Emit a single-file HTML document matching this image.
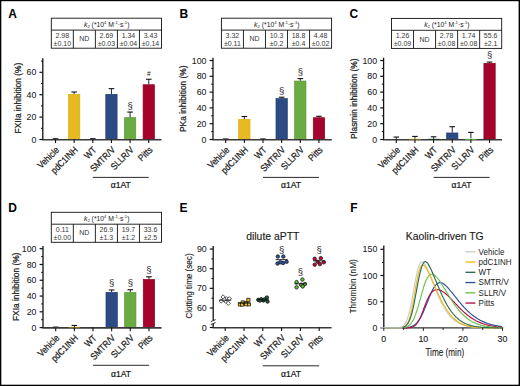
<!DOCTYPE html>
<html><head><meta charset="utf-8"><style>
html,body{margin:0;padding:0;background:#fff;width:520px;height:386px;overflow:hidden;font-family:"Liberation Sans",sans-serif;}
svg{display:block}
</style></head><body>
<svg width="520" height="386" viewBox="0 0 520 386" font-family='"Liberation Sans", sans-serif'><rect x="0" y="0" width="520" height="386" fill="#000"/>
<rect x="1.3" y="1.2" width="517.3" height="383.5" fill="#fff"/>
<text x="8.2" y="17.7" font-size="12" text-anchor="start" font-weight="bold" fill="#000" >A</text>
<rect x="51.3" y="18.2" width="110.2" height="30" fill="none" stroke="#111" stroke-width="0.9"/>
<line x1="51.3" y1="30.1" x2="161.5" y2="30.1" stroke="#111" stroke-width="0.9" />
<line x1="73.34" y1="30.1" x2="73.34" y2="48.2" stroke="#111" stroke-width="0.9" />
<line x1="95.38" y1="30.1" x2="95.38" y2="48.2" stroke="#111" stroke-width="0.9" />
<line x1="117.42" y1="30.1" x2="117.42" y2="48.2" stroke="#111" stroke-width="0.9" />
<line x1="139.46" y1="30.1" x2="139.46" y2="48.2" stroke="#111" stroke-width="0.9" />
<text x="106.7" y="26.5" font-size="6.8" text-anchor="middle" fill="#222"><tspan font-style="italic">k</tspan><tspan font-size="4.2" dy="1.3">2</tspan><tspan dy="-1.3"> (*10</tspan><tspan font-size="4.2" dy="-2.4">4</tspan><tspan dy="2.4"> M</tspan><tspan font-size="4.2" dy="-2.4">-1</tspan><tspan dy="2.4">·s</tspan><tspan font-size="4.2" dy="-2.4">-1</tspan><tspan dy="2.4">)</tspan></text>
<text x="62.32" y="37.6" font-size="7" text-anchor="middle" font-weight="normal" fill="#383838" >2.98</text>
<text x="62.32" y="45.7" font-size="7" text-anchor="middle" font-weight="normal" fill="#383838" >±0.10</text>
<text x="84.36" y="41.3" font-size="7" text-anchor="middle" font-weight="normal" fill="#383838" >ND</text>
<text x="106.4" y="37.6" font-size="7" text-anchor="middle" font-weight="normal" fill="#383838" >2.69</text>
<text x="106.4" y="45.7" font-size="7" text-anchor="middle" font-weight="normal" fill="#383838" >±0.03</text>
<text x="128.44" y="37.6" font-size="7" text-anchor="middle" font-weight="normal" fill="#383838" >1.34</text>
<text x="128.44" y="45.7" font-size="7" text-anchor="middle" font-weight="normal" fill="#383838" >±0.04</text>
<text x="150.48" y="37.6" font-size="7" text-anchor="middle" font-weight="normal" fill="#383838" >3.43</text>
<text x="150.48" y="45.7" font-size="7" text-anchor="middle" font-weight="normal" fill="#383838" >±0.14</text>
<line x1="55.5" y1="139.5" x2="55.5" y2="138.72" stroke="#111" stroke-width="0.9" />
<line x1="52.7" y1="138.72" x2="58.3" y2="138.72" stroke="#111" stroke-width="1.1" />
<rect x="68.5" y="94.38" width="11.3" height="45.12" fill="#e7b923" stroke="#dcae08" stroke-width="0.7"/>
<line x1="74.15" y1="94.03" x2="74.15" y2="92.01" stroke="#111" stroke-width="0.9" />
<line x1="71.35" y1="92.01" x2="76.95" y2="92.01" stroke="#111" stroke-width="1.1" />
<line x1="92.8" y1="139.5" x2="92.8" y2="138.72" stroke="#111" stroke-width="0.9" />
<line x1="90" y1="138.72" x2="95.6" y2="138.72" stroke="#111" stroke-width="1.1" />
<rect x="105.8" y="94.38" width="11.3" height="45.12" fill="#2c4b85" stroke="#213c70" stroke-width="0.7"/>
<line x1="111.45" y1="94.03" x2="111.45" y2="88.65" stroke="#111" stroke-width="0.9" />
<line x1="108.65" y1="88.65" x2="114.25" y2="88.65" stroke="#111" stroke-width="1.1" />
<rect x="124.45" y="117.67" width="11.3" height="21.83" fill="#6aab44" stroke="#5a9a35" stroke-width="0.7"/>
<line x1="130.1" y1="117.32" x2="130.1" y2="112.06" stroke="#111" stroke-width="0.9" />
<line x1="127.3" y1="112.06" x2="132.9" y2="112.06" stroke="#111" stroke-width="1.1" />
<rect x="143.1" y="84.75" width="11.3" height="54.75" fill="#a5032c" stroke="#900024" stroke-width="0.7"/>
<line x1="148.75" y1="84.4" x2="148.75" y2="79.24" stroke="#111" stroke-width="0.9" />
<line x1="145.95" y1="79.24" x2="151.55" y2="79.24" stroke="#111" stroke-width="1.1" />
<line x1="42.8" y1="58.2" x2="42.8" y2="140" stroke="#111" stroke-width="1.3" />
<line x1="42.3" y1="139.8" x2="161.5" y2="139.8" stroke="#3a3a3a" stroke-width="1.6" />
<line x1="39.4" y1="139.5" x2="42.8" y2="139.5" stroke="#111" stroke-width="1.2" />
<text x="36.3" y="142.6" font-size="8.8" text-anchor="end" font-weight="normal" fill="#1a1a1a" stroke="#1a1a1a" stroke-width="0.06" >0</text>
<line x1="39.4" y1="117.1" x2="42.8" y2="117.1" stroke="#111" stroke-width="1.2" />
<text x="36.3" y="120.2" font-size="8.8" text-anchor="end" font-weight="normal" fill="#1a1a1a" stroke="#1a1a1a" stroke-width="0.06" >20</text>
<line x1="39.4" y1="94.7" x2="42.8" y2="94.7" stroke="#111" stroke-width="1.2" />
<text x="36.3" y="97.8" font-size="8.8" text-anchor="end" font-weight="normal" fill="#1a1a1a" stroke="#1a1a1a" stroke-width="0.06" >40</text>
<line x1="39.4" y1="72.3" x2="42.8" y2="72.3" stroke="#111" stroke-width="1.2" />
<text x="36.3" y="75.4" font-size="8.8" text-anchor="end" font-weight="normal" fill="#1a1a1a" stroke="#1a1a1a" stroke-width="0.06" >60</text>
<line x1="41" y1="128.3" x2="42.8" y2="128.3" stroke="#111" stroke-width="1.0" />
<line x1="41" y1="105.9" x2="42.8" y2="105.9" stroke="#111" stroke-width="1.0" />
<line x1="41" y1="83.5" x2="42.8" y2="83.5" stroke="#111" stroke-width="1.0" />
<line x1="41" y1="61.1" x2="42.8" y2="61.1" stroke="#111" stroke-width="1.0" />
<line x1="55.5" y1="139.5" x2="55.5" y2="143.1" stroke="#111" stroke-width="1.1" />
<line x1="74.15" y1="139.5" x2="74.15" y2="143.1" stroke="#111" stroke-width="1.1" />
<line x1="92.8" y1="139.5" x2="92.8" y2="143.1" stroke="#111" stroke-width="1.1" />
<line x1="111.45" y1="139.5" x2="111.45" y2="143.1" stroke="#111" stroke-width="1.1" />
<line x1="130.1" y1="139.5" x2="130.1" y2="143.1" stroke="#111" stroke-width="1.1" />
<line x1="148.75" y1="139.5" x2="148.75" y2="143.1" stroke="#111" stroke-width="1.1" />
<text x="130.1" y="109" font-size="9.5" text-anchor="middle" font-weight="normal" fill="#222" >§</text>
<text x="148.75" y="75.6" font-size="6.6" text-anchor="middle" font-weight="normal" fill="#222" >#</text>
<text transform="translate(20.6 98.1) rotate(-90)" font-size="8.4" text-anchor="middle" font-weight="normal" fill="#1a1a1a" stroke="#1a1a1a" stroke-width="0.22" >FXIIa inhibition (%)</text>
<text transform="translate(59.8 150.5) rotate(-45) scale(0.87 1)" font-size="9.4" text-anchor="end" font-weight="normal" fill="#1a1a1a" stroke="#1a1a1a" stroke-width="0.22" >Vehicle</text>
<text transform="translate(78.45 150.5) rotate(-45) scale(0.87 1)" font-size="9.4" text-anchor="end" font-weight="normal" fill="#1a1a1a" stroke="#1a1a1a" stroke-width="0.22" >pdC1INH</text>
<text transform="translate(97.1 150.5) rotate(-45) scale(0.87 1)" font-size="9.4" text-anchor="end" font-weight="normal" fill="#1a1a1a" stroke="#1a1a1a" stroke-width="0.22" >WT</text>
<text transform="translate(115.75 150.5) rotate(-45) scale(0.87 1)" font-size="9.4" text-anchor="end" font-weight="normal" fill="#1a1a1a" stroke="#1a1a1a" stroke-width="0.22" >SMTR/V</text>
<text transform="translate(134.4 150.5) rotate(-45) scale(0.87 1)" font-size="9.4" text-anchor="end" font-weight="normal" fill="#1a1a1a" stroke="#1a1a1a" stroke-width="0.22" >SLLR/V</text>
<text transform="translate(153.05 150.5) rotate(-45) scale(0.87 1)" font-size="9.4" text-anchor="end" font-weight="normal" fill="#1a1a1a" stroke="#1a1a1a" stroke-width="0.22" >Pitts</text>
<line x1="92.8" y1="177.4" x2="148.75" y2="177.4" stroke="#111" stroke-width="0.9" />
<text x="120.78" y="188.4" font-size="8.6" text-anchor="middle" font-weight="normal" fill="#1a1a1a" stroke="#1a1a1a" stroke-width="0.22" >α1AT</text>
<text x="179.6" y="17.8" font-size="12" text-anchor="start" font-weight="bold" fill="#000" >B</text>
<rect x="221.4" y="18.2" width="110.2" height="30" fill="none" stroke="#111" stroke-width="0.9"/>
<line x1="221.4" y1="30.1" x2="331.6" y2="30.1" stroke="#111" stroke-width="0.9" />
<line x1="243.44" y1="30.1" x2="243.44" y2="48.2" stroke="#111" stroke-width="0.9" />
<line x1="265.48" y1="30.1" x2="265.48" y2="48.2" stroke="#111" stroke-width="0.9" />
<line x1="287.52" y1="30.1" x2="287.52" y2="48.2" stroke="#111" stroke-width="0.9" />
<line x1="309.56" y1="30.1" x2="309.56" y2="48.2" stroke="#111" stroke-width="0.9" />
<text x="276.8" y="26.5" font-size="6.8" text-anchor="middle" fill="#222"><tspan font-style="italic">k</tspan><tspan font-size="4.2" dy="1.3">2</tspan><tspan dy="-1.3"> (*10</tspan><tspan font-size="4.2" dy="-2.4">4</tspan><tspan dy="2.4"> M</tspan><tspan font-size="4.2" dy="-2.4">-1</tspan><tspan dy="2.4">·s</tspan><tspan font-size="4.2" dy="-2.4">-1</tspan><tspan dy="2.4">)</tspan></text>
<text x="232.42" y="37.6" font-size="7" text-anchor="middle" font-weight="normal" fill="#383838" >3.32</text>
<text x="232.42" y="45.7" font-size="7" text-anchor="middle" font-weight="normal" fill="#383838" >±0.11</text>
<text x="254.46" y="41.3" font-size="7" text-anchor="middle" font-weight="normal" fill="#383838" >ND</text>
<text x="276.5" y="37.6" font-size="7" text-anchor="middle" font-weight="normal" fill="#383838" >10.3</text>
<text x="276.5" y="45.7" font-size="7" text-anchor="middle" font-weight="normal" fill="#383838" >±0.2</text>
<text x="298.54" y="37.6" font-size="7" text-anchor="middle" font-weight="normal" fill="#383838" >18.8</text>
<text x="298.54" y="45.7" font-size="7" text-anchor="middle" font-weight="normal" fill="#383838" >±0.4</text>
<text x="320.58" y="37.6" font-size="7" text-anchor="middle" font-weight="normal" fill="#383838" >4.48</text>
<text x="320.58" y="45.7" font-size="7" text-anchor="middle" font-weight="normal" fill="#383838" >±0.02</text>
<line x1="225.7" y1="139.5" x2="225.7" y2="138.95" stroke="#111" stroke-width="0.9" />
<line x1="222.9" y1="138.95" x2="228.5" y2="138.95" stroke="#111" stroke-width="1.1" />
<rect x="238.7" y="119.39" width="11.3" height="20.11" fill="#e7b923" stroke="#dcae08" stroke-width="0.7"/>
<line x1="244.35" y1="119.04" x2="244.35" y2="116.51" stroke="#111" stroke-width="0.9" />
<line x1="241.55" y1="116.51" x2="247.15" y2="116.51" stroke="#111" stroke-width="1.1" />
<line x1="263" y1="139.5" x2="263" y2="138.95" stroke="#111" stroke-width="0.9" />
<line x1="260.2" y1="138.95" x2="265.8" y2="138.95" stroke="#111" stroke-width="1.1" />
<rect x="276" y="98.61" width="11.3" height="40.89" fill="#2c4b85" stroke="#213c70" stroke-width="0.7"/>
<line x1="281.65" y1="98.26" x2="281.65" y2="97.23" stroke="#111" stroke-width="0.9" />
<line x1="278.85" y1="97.23" x2="284.45" y2="97.23" stroke="#111" stroke-width="1.1" />
<rect x="294.65" y="81.07" width="11.3" height="58.43" fill="#6aab44" stroke="#5a9a35" stroke-width="0.7"/>
<line x1="300.3" y1="80.72" x2="300.3" y2="78.59" stroke="#111" stroke-width="0.9" />
<line x1="297.5" y1="78.59" x2="303.1" y2="78.59" stroke="#111" stroke-width="1.1" />
<rect x="313.3" y="117.73" width="11.3" height="21.77" fill="#a5032c" stroke="#900024" stroke-width="0.7"/>
<line x1="318.95" y1="117.38" x2="318.95" y2="116.27" stroke="#111" stroke-width="0.9" />
<line x1="316.15" y1="116.27" x2="321.75" y2="116.27" stroke="#111" stroke-width="1.1" />
<line x1="213" y1="57.7" x2="213" y2="140" stroke="#111" stroke-width="1.3" />
<line x1="212.5" y1="139.8" x2="331.8" y2="139.8" stroke="#3a3a3a" stroke-width="1.6" />
<line x1="209.6" y1="139.5" x2="213" y2="139.5" stroke="#111" stroke-width="1.2" />
<text x="206.5" y="142.6" font-size="8.8" text-anchor="end" font-weight="normal" fill="#1a1a1a" stroke="#1a1a1a" stroke-width="0.06" >0</text>
<line x1="209.6" y1="123.7" x2="213" y2="123.7" stroke="#111" stroke-width="1.2" />
<text x="206.5" y="126.8" font-size="8.8" text-anchor="end" font-weight="normal" fill="#1a1a1a" stroke="#1a1a1a" stroke-width="0.06" >20</text>
<line x1="209.6" y1="107.9" x2="213" y2="107.9" stroke="#111" stroke-width="1.2" />
<text x="206.5" y="111" font-size="8.8" text-anchor="end" font-weight="normal" fill="#1a1a1a" stroke="#1a1a1a" stroke-width="0.06" >40</text>
<line x1="209.6" y1="92.1" x2="213" y2="92.1" stroke="#111" stroke-width="1.2" />
<text x="206.5" y="95.2" font-size="8.8" text-anchor="end" font-weight="normal" fill="#1a1a1a" stroke="#1a1a1a" stroke-width="0.06" >60</text>
<line x1="209.6" y1="76.3" x2="213" y2="76.3" stroke="#111" stroke-width="1.2" />
<text x="206.5" y="79.4" font-size="8.8" text-anchor="end" font-weight="normal" fill="#1a1a1a" stroke="#1a1a1a" stroke-width="0.06" >80</text>
<line x1="209.6" y1="60.5" x2="213" y2="60.5" stroke="#111" stroke-width="1.2" />
<text x="206.5" y="63.6" font-size="8.8" text-anchor="end" font-weight="normal" fill="#1a1a1a" stroke="#1a1a1a" stroke-width="0.06" >100</text>
<line x1="211.2" y1="131.6" x2="213" y2="131.6" stroke="#111" stroke-width="1.0" />
<line x1="211.2" y1="115.8" x2="213" y2="115.8" stroke="#111" stroke-width="1.0" />
<line x1="211.2" y1="100" x2="213" y2="100" stroke="#111" stroke-width="1.0" />
<line x1="211.2" y1="84.2" x2="213" y2="84.2" stroke="#111" stroke-width="1.0" />
<line x1="211.2" y1="68.4" x2="213" y2="68.4" stroke="#111" stroke-width="1.0" />
<line x1="225.7" y1="139.5" x2="225.7" y2="143.1" stroke="#111" stroke-width="1.1" />
<line x1="244.35" y1="139.5" x2="244.35" y2="143.1" stroke="#111" stroke-width="1.1" />
<line x1="263" y1="139.5" x2="263" y2="143.1" stroke="#111" stroke-width="1.1" />
<line x1="281.65" y1="139.5" x2="281.65" y2="143.1" stroke="#111" stroke-width="1.1" />
<line x1="300.3" y1="139.5" x2="300.3" y2="143.1" stroke="#111" stroke-width="1.1" />
<line x1="318.95" y1="139.5" x2="318.95" y2="143.1" stroke="#111" stroke-width="1.1" />
<text x="281.65" y="93.5" font-size="9.5" text-anchor="middle" font-weight="normal" fill="#222" >§</text>
<text x="300.3" y="74.9" font-size="9.5" text-anchor="middle" font-weight="normal" fill="#222" >§</text>
<text transform="translate(186 98.7) rotate(-90)" font-size="8.4" text-anchor="middle" font-weight="normal" fill="#1a1a1a" stroke="#1a1a1a" stroke-width="0.22" >PKa inhibition (%)</text>
<text transform="translate(230 150.5) rotate(-45) scale(0.87 1)" font-size="9.4" text-anchor="end" font-weight="normal" fill="#1a1a1a" stroke="#1a1a1a" stroke-width="0.22" >Vehicle</text>
<text transform="translate(248.65 150.5) rotate(-45) scale(0.87 1)" font-size="9.4" text-anchor="end" font-weight="normal" fill="#1a1a1a" stroke="#1a1a1a" stroke-width="0.22" >pdC1INH</text>
<text transform="translate(267.3 150.5) rotate(-45) scale(0.87 1)" font-size="9.4" text-anchor="end" font-weight="normal" fill="#1a1a1a" stroke="#1a1a1a" stroke-width="0.22" >WT</text>
<text transform="translate(285.95 150.5) rotate(-45) scale(0.87 1)" font-size="9.4" text-anchor="end" font-weight="normal" fill="#1a1a1a" stroke="#1a1a1a" stroke-width="0.22" >SMTR/V</text>
<text transform="translate(304.6 150.5) rotate(-45) scale(0.87 1)" font-size="9.4" text-anchor="end" font-weight="normal" fill="#1a1a1a" stroke="#1a1a1a" stroke-width="0.22" >SLLR/V</text>
<text transform="translate(323.25 150.5) rotate(-45) scale(0.87 1)" font-size="9.4" text-anchor="end" font-weight="normal" fill="#1a1a1a" stroke="#1a1a1a" stroke-width="0.22" >Pitts</text>
<line x1="263" y1="177.4" x2="318.95" y2="177.4" stroke="#111" stroke-width="0.9" />
<text x="290.98" y="188.4" font-size="8.6" text-anchor="middle" font-weight="normal" fill="#1a1a1a" stroke="#1a1a1a" stroke-width="0.22" >α1AT</text>
<text x="349.4" y="18" font-size="12" text-anchor="start" font-weight="bold" fill="#000" >C</text>
<rect x="391.5" y="18.4" width="110.2" height="30" fill="none" stroke="#111" stroke-width="0.9"/>
<line x1="391.5" y1="30.3" x2="501.7" y2="30.3" stroke="#111" stroke-width="0.9" />
<line x1="413.54" y1="30.3" x2="413.54" y2="48.4" stroke="#111" stroke-width="0.9" />
<line x1="435.58" y1="30.3" x2="435.58" y2="48.4" stroke="#111" stroke-width="0.9" />
<line x1="457.62" y1="30.3" x2="457.62" y2="48.4" stroke="#111" stroke-width="0.9" />
<line x1="479.66" y1="30.3" x2="479.66" y2="48.4" stroke="#111" stroke-width="0.9" />
<text x="446.9" y="26.7" font-size="6.8" text-anchor="middle" fill="#222"><tspan font-style="italic">k</tspan><tspan font-size="4.2" dy="1.3">2</tspan><tspan dy="-1.3"> (*10</tspan><tspan font-size="4.2" dy="-2.4">4</tspan><tspan dy="2.4"> M</tspan><tspan font-size="4.2" dy="-2.4">-1</tspan><tspan dy="2.4">·s</tspan><tspan font-size="4.2" dy="-2.4">-1</tspan><tspan dy="2.4">)</tspan></text>
<text x="402.52" y="37.8" font-size="7" text-anchor="middle" font-weight="normal" fill="#383838" >1.26</text>
<text x="402.52" y="45.9" font-size="7" text-anchor="middle" font-weight="normal" fill="#383838" >±0.09</text>
<text x="424.56" y="41.5" font-size="7" text-anchor="middle" font-weight="normal" fill="#383838" >ND</text>
<text x="446.6" y="37.8" font-size="7" text-anchor="middle" font-weight="normal" fill="#383838" >2.78</text>
<text x="446.6" y="45.9" font-size="7" text-anchor="middle" font-weight="normal" fill="#383838" >±0.08</text>
<text x="468.64" y="37.8" font-size="7" text-anchor="middle" font-weight="normal" fill="#383838" >1.74</text>
<text x="468.64" y="45.9" font-size="7" text-anchor="middle" font-weight="normal" fill="#383838" >±0.08</text>
<text x="490.68" y="37.8" font-size="7" text-anchor="middle" font-weight="normal" fill="#383838" >55.6</text>
<text x="490.68" y="45.9" font-size="7" text-anchor="middle" font-weight="normal" fill="#383838" >±2.1</text>
<line x1="396.3" y1="139.5" x2="396.3" y2="137.05" stroke="#111" stroke-width="0.9" />
<line x1="393.5" y1="137.05" x2="399.1" y2="137.05" stroke="#111" stroke-width="1.1" />
<line x1="414.95" y1="138.71" x2="414.95" y2="136.42" stroke="#111" stroke-width="0.9" />
<line x1="412.15" y1="136.42" x2="417.75" y2="136.42" stroke="#111" stroke-width="1.1" />
<line x1="433.6" y1="138.87" x2="433.6" y2="136.81" stroke="#111" stroke-width="0.9" />
<line x1="430.8" y1="136.81" x2="436.4" y2="136.81" stroke="#111" stroke-width="1.1" />
<rect x="446.6" y="132.98" width="11.3" height="6.52" fill="#2c4b85" stroke="#213c70" stroke-width="0.7"/>
<line x1="452.25" y1="132.63" x2="452.25" y2="126.7" stroke="#111" stroke-width="0.9" />
<line x1="449.45" y1="126.7" x2="455.05" y2="126.7" stroke="#111" stroke-width="1.1" />
<line x1="470.9" y1="138.24" x2="470.9" y2="132.39" stroke="#111" stroke-width="0.9" />
<line x1="468.1" y1="132.39" x2="473.7" y2="132.39" stroke="#111" stroke-width="1.1" />
<rect x="483.9" y="63.38" width="11.3" height="76.12" fill="#a5032c" stroke="#900024" stroke-width="0.7"/>
<line x1="489.55" y1="63.03" x2="489.55" y2="62.08" stroke="#111" stroke-width="0.9" />
<line x1="486.75" y1="62.08" x2="492.35" y2="62.08" stroke="#111" stroke-width="1.1" />
<line x1="383.6" y1="57.7" x2="383.6" y2="140" stroke="#111" stroke-width="1.3" />
<line x1="383.1" y1="139.8" x2="502" y2="139.8" stroke="#3a3a3a" stroke-width="1.6" />
<line x1="409.15" y1="139.4" x2="420.75" y2="139.4" stroke="#8a7420" stroke-width="1.1" />
<line x1="427.8" y1="139.4" x2="439.4" y2="139.4" stroke="#0f3a25" stroke-width="1.1" />
<line x1="465.1" y1="139.4" x2="476.7" y2="139.4" stroke="#5aa83a" stroke-width="1.1" />
<line x1="380.2" y1="139.5" x2="383.6" y2="139.5" stroke="#111" stroke-width="1.2" />
<text x="377.1" y="142.6" font-size="8.8" text-anchor="end" font-weight="normal" fill="#1a1a1a" stroke="#1a1a1a" stroke-width="0.06" >0</text>
<line x1="380.2" y1="123.7" x2="383.6" y2="123.7" stroke="#111" stroke-width="1.2" />
<text x="377.1" y="126.8" font-size="8.8" text-anchor="end" font-weight="normal" fill="#1a1a1a" stroke="#1a1a1a" stroke-width="0.06" >20</text>
<line x1="380.2" y1="107.9" x2="383.6" y2="107.9" stroke="#111" stroke-width="1.2" />
<text x="377.1" y="111" font-size="8.8" text-anchor="end" font-weight="normal" fill="#1a1a1a" stroke="#1a1a1a" stroke-width="0.06" >40</text>
<line x1="380.2" y1="92.1" x2="383.6" y2="92.1" stroke="#111" stroke-width="1.2" />
<text x="377.1" y="95.2" font-size="8.8" text-anchor="end" font-weight="normal" fill="#1a1a1a" stroke="#1a1a1a" stroke-width="0.06" >60</text>
<line x1="380.2" y1="76.3" x2="383.6" y2="76.3" stroke="#111" stroke-width="1.2" />
<text x="377.1" y="79.4" font-size="8.8" text-anchor="end" font-weight="normal" fill="#1a1a1a" stroke="#1a1a1a" stroke-width="0.06" >80</text>
<line x1="380.2" y1="60.5" x2="383.6" y2="60.5" stroke="#111" stroke-width="1.2" />
<text x="377.1" y="63.6" font-size="8.8" text-anchor="end" font-weight="normal" fill="#1a1a1a" stroke="#1a1a1a" stroke-width="0.06" >100</text>
<line x1="381.8" y1="131.6" x2="383.6" y2="131.6" stroke="#111" stroke-width="1.0" />
<line x1="381.8" y1="115.8" x2="383.6" y2="115.8" stroke="#111" stroke-width="1.0" />
<line x1="381.8" y1="100" x2="383.6" y2="100" stroke="#111" stroke-width="1.0" />
<line x1="381.8" y1="84.2" x2="383.6" y2="84.2" stroke="#111" stroke-width="1.0" />
<line x1="381.8" y1="68.4" x2="383.6" y2="68.4" stroke="#111" stroke-width="1.0" />
<line x1="396.3" y1="139.5" x2="396.3" y2="143.1" stroke="#111" stroke-width="1.1" />
<line x1="414.95" y1="139.5" x2="414.95" y2="143.1" stroke="#111" stroke-width="1.1" />
<line x1="433.6" y1="139.5" x2="433.6" y2="143.1" stroke="#111" stroke-width="1.1" />
<line x1="452.25" y1="139.5" x2="452.25" y2="143.1" stroke="#111" stroke-width="1.1" />
<line x1="470.9" y1="139.5" x2="470.9" y2="143.1" stroke="#111" stroke-width="1.1" />
<line x1="489.55" y1="139.5" x2="489.55" y2="143.1" stroke="#111" stroke-width="1.1" />
<text x="489.55" y="57.7" font-size="9.5" text-anchor="middle" font-weight="normal" fill="#222" >§</text>
<text transform="translate(356.8 98.7) rotate(-90)" font-size="8.4" text-anchor="middle" font-weight="normal" fill="#1a1a1a" stroke="#1a1a1a" stroke-width="0.22" >Plasmin inhibition (%)</text>
<text transform="translate(400.6 150.5) rotate(-45) scale(0.87 1)" font-size="9.4" text-anchor="end" font-weight="normal" fill="#1a1a1a" stroke="#1a1a1a" stroke-width="0.22" >Vehicle</text>
<text transform="translate(419.25 150.5) rotate(-45) scale(0.87 1)" font-size="9.4" text-anchor="end" font-weight="normal" fill="#1a1a1a" stroke="#1a1a1a" stroke-width="0.22" >pdC1INH</text>
<text transform="translate(437.9 150.5) rotate(-45) scale(0.87 1)" font-size="9.4" text-anchor="end" font-weight="normal" fill="#1a1a1a" stroke="#1a1a1a" stroke-width="0.22" >WT</text>
<text transform="translate(456.55 150.5) rotate(-45) scale(0.87 1)" font-size="9.4" text-anchor="end" font-weight="normal" fill="#1a1a1a" stroke="#1a1a1a" stroke-width="0.22" >SMTR/V</text>
<text transform="translate(475.2 150.5) rotate(-45) scale(0.87 1)" font-size="9.4" text-anchor="end" font-weight="normal" fill="#1a1a1a" stroke="#1a1a1a" stroke-width="0.22" >SLLR/V</text>
<text transform="translate(493.85 150.5) rotate(-45) scale(0.87 1)" font-size="9.4" text-anchor="end" font-weight="normal" fill="#1a1a1a" stroke="#1a1a1a" stroke-width="0.22" >Pitts</text>
<line x1="433.6" y1="177.4" x2="489.55" y2="177.4" stroke="#111" stroke-width="0.9" />
<text x="461.58" y="188.4" font-size="8.6" text-anchor="middle" font-weight="normal" fill="#1a1a1a" stroke="#1a1a1a" stroke-width="0.22" >α1AT</text>
<text x="8.2" y="211.7" font-size="12" text-anchor="start" font-weight="bold" fill="#000" >D</text>
<rect x="51.3" y="212.3" width="110.2" height="30" fill="none" stroke="#111" stroke-width="0.9"/>
<line x1="51.3" y1="224.2" x2="161.5" y2="224.2" stroke="#111" stroke-width="0.9" />
<line x1="73.34" y1="224.2" x2="73.34" y2="242.3" stroke="#111" stroke-width="0.9" />
<line x1="95.38" y1="224.2" x2="95.38" y2="242.3" stroke="#111" stroke-width="0.9" />
<line x1="117.42" y1="224.2" x2="117.42" y2="242.3" stroke="#111" stroke-width="0.9" />
<line x1="139.46" y1="224.2" x2="139.46" y2="242.3" stroke="#111" stroke-width="0.9" />
<text x="106.7" y="220.6" font-size="6.8" text-anchor="middle" fill="#222"><tspan font-style="italic">k</tspan><tspan font-size="4.2" dy="1.3">2</tspan><tspan dy="-1.3"> (*10</tspan><tspan font-size="4.2" dy="-2.4">4</tspan><tspan dy="2.4"> M</tspan><tspan font-size="4.2" dy="-2.4">-1</tspan><tspan dy="2.4">·s</tspan><tspan font-size="4.2" dy="-2.4">-1</tspan><tspan dy="2.4">)</tspan></text>
<text x="62.32" y="231.7" font-size="7" text-anchor="middle" font-weight="normal" fill="#383838" >0.11</text>
<text x="62.32" y="239.8" font-size="7" text-anchor="middle" font-weight="normal" fill="#383838" >±0.00</text>
<text x="84.36" y="235.4" font-size="7" text-anchor="middle" font-weight="normal" fill="#383838" >ND</text>
<text x="106.4" y="231.7" font-size="7" text-anchor="middle" font-weight="normal" fill="#383838" >26.9</text>
<text x="106.4" y="239.8" font-size="7" text-anchor="middle" font-weight="normal" fill="#383838" >±1.3</text>
<text x="128.44" y="231.7" font-size="7" text-anchor="middle" font-weight="normal" fill="#383838" >19.7</text>
<text x="128.44" y="239.8" font-size="7" text-anchor="middle" font-weight="normal" fill="#383838" >±1.2</text>
<text x="150.48" y="231.7" font-size="7" text-anchor="middle" font-weight="normal" fill="#383838" >33.6</text>
<text x="150.48" y="239.8" font-size="7" text-anchor="middle" font-weight="normal" fill="#383838" >±2.5</text>
<line x1="55.7" y1="327.6" x2="55.7" y2="327.13" stroke="#111" stroke-width="0.9" />
<line x1="52.9" y1="327.13" x2="58.5" y2="327.13" stroke="#111" stroke-width="1.1" />
<line x1="74.35" y1="327.13" x2="74.35" y2="325.47" stroke="#111" stroke-width="0.9" />
<line x1="71.55" y1="325.47" x2="77.15" y2="325.47" stroke="#111" stroke-width="1.1" />
<rect x="106" y="292.37" width="11.3" height="35.23" fill="#2c4b85" stroke="#213c70" stroke-width="0.7"/>
<line x1="111.65" y1="292.02" x2="111.65" y2="289.96" stroke="#111" stroke-width="0.9" />
<line x1="108.85" y1="289.96" x2="114.45" y2="289.96" stroke="#111" stroke-width="1.1" />
<rect x="124.65" y="292.52" width="11.3" height="35.08" fill="#6aab44" stroke="#5a9a35" stroke-width="0.7"/>
<line x1="130.3" y1="292.17" x2="130.3" y2="289.73" stroke="#111" stroke-width="0.9" />
<line x1="127.5" y1="289.73" x2="133.1" y2="289.73" stroke="#111" stroke-width="1.1" />
<rect x="143.3" y="279.43" width="11.3" height="48.17" fill="#a5032c" stroke="#900024" stroke-width="0.7"/>
<line x1="148.95" y1="279.08" x2="148.95" y2="276.79" stroke="#111" stroke-width="0.9" />
<line x1="146.15" y1="276.79" x2="151.75" y2="276.79" stroke="#111" stroke-width="1.1" />
<line x1="43" y1="246" x2="43" y2="328.1" stroke="#111" stroke-width="1.3" />
<line x1="42.5" y1="327.9" x2="161.5" y2="327.9" stroke="#3a3a3a" stroke-width="1.6" />
<line x1="68.55" y1="327.5" x2="80.15" y2="327.5" stroke="#8a7420" stroke-width="1.1" />
<line x1="39.6" y1="327.6" x2="43" y2="327.6" stroke="#111" stroke-width="1.2" />
<text x="36.5" y="330.7" font-size="8.8" text-anchor="end" font-weight="normal" fill="#1a1a1a" stroke="#1a1a1a" stroke-width="0.06" >0</text>
<line x1="39.6" y1="311.82" x2="43" y2="311.82" stroke="#111" stroke-width="1.2" />
<text x="36.5" y="314.92" font-size="8.8" text-anchor="end" font-weight="normal" fill="#1a1a1a" stroke="#1a1a1a" stroke-width="0.06" >20</text>
<line x1="39.6" y1="296.04" x2="43" y2="296.04" stroke="#111" stroke-width="1.2" />
<text x="36.5" y="299.14" font-size="8.8" text-anchor="end" font-weight="normal" fill="#1a1a1a" stroke="#1a1a1a" stroke-width="0.06" >40</text>
<line x1="39.6" y1="280.26" x2="43" y2="280.26" stroke="#111" stroke-width="1.2" />
<text x="36.5" y="283.36" font-size="8.8" text-anchor="end" font-weight="normal" fill="#1a1a1a" stroke="#1a1a1a" stroke-width="0.06" >60</text>
<line x1="39.6" y1="264.48" x2="43" y2="264.48" stroke="#111" stroke-width="1.2" />
<text x="36.5" y="267.58" font-size="8.8" text-anchor="end" font-weight="normal" fill="#1a1a1a" stroke="#1a1a1a" stroke-width="0.06" >80</text>
<line x1="39.6" y1="248.7" x2="43" y2="248.7" stroke="#111" stroke-width="1.2" />
<text x="36.5" y="251.8" font-size="8.8" text-anchor="end" font-weight="normal" fill="#1a1a1a" stroke="#1a1a1a" stroke-width="0.06" >100</text>
<line x1="41.2" y1="319.71" x2="43" y2="319.71" stroke="#111" stroke-width="1.0" />
<line x1="41.2" y1="303.93" x2="43" y2="303.93" stroke="#111" stroke-width="1.0" />
<line x1="41.2" y1="288.15" x2="43" y2="288.15" stroke="#111" stroke-width="1.0" />
<line x1="41.2" y1="272.37" x2="43" y2="272.37" stroke="#111" stroke-width="1.0" />
<line x1="41.2" y1="256.59" x2="43" y2="256.59" stroke="#111" stroke-width="1.0" />
<line x1="55.7" y1="327.6" x2="55.7" y2="331.2" stroke="#111" stroke-width="1.1" />
<line x1="74.35" y1="327.6" x2="74.35" y2="331.2" stroke="#111" stroke-width="1.1" />
<line x1="93" y1="327.6" x2="93" y2="331.2" stroke="#111" stroke-width="1.1" />
<line x1="111.65" y1="327.6" x2="111.65" y2="331.2" stroke="#111" stroke-width="1.1" />
<line x1="130.3" y1="327.6" x2="130.3" y2="331.2" stroke="#111" stroke-width="1.1" />
<line x1="148.95" y1="327.6" x2="148.95" y2="331.2" stroke="#111" stroke-width="1.1" />
<text x="111.65" y="286" font-size="9.5" text-anchor="middle" font-weight="normal" fill="#222" >§</text>
<text x="130.3" y="286" font-size="9.5" text-anchor="middle" font-weight="normal" fill="#222" >§</text>
<text x="148.95" y="272.8" font-size="9.5" text-anchor="middle" font-weight="normal" fill="#222" >§</text>
<text transform="translate(18.5 286.8) rotate(-90)" font-size="8.4" text-anchor="middle" font-weight="normal" fill="#1a1a1a" stroke="#1a1a1a" stroke-width="0.22" >FXIa inhibition (%)</text>
<text transform="translate(60 338.6) rotate(-45) scale(0.87 1)" font-size="9.4" text-anchor="end" font-weight="normal" fill="#1a1a1a" stroke="#1a1a1a" stroke-width="0.22" >Vehicle</text>
<text transform="translate(78.65 338.6) rotate(-45) scale(0.87 1)" font-size="9.4" text-anchor="end" font-weight="normal" fill="#1a1a1a" stroke="#1a1a1a" stroke-width="0.22" >pdC1INH</text>
<text transform="translate(97.3 338.6) rotate(-45) scale(0.87 1)" font-size="9.4" text-anchor="end" font-weight="normal" fill="#1a1a1a" stroke="#1a1a1a" stroke-width="0.22" >WT</text>
<text transform="translate(115.95 338.6) rotate(-45) scale(0.87 1)" font-size="9.4" text-anchor="end" font-weight="normal" fill="#1a1a1a" stroke="#1a1a1a" stroke-width="0.22" >SMTR/V</text>
<text transform="translate(134.6 338.6) rotate(-45) scale(0.87 1)" font-size="9.4" text-anchor="end" font-weight="normal" fill="#1a1a1a" stroke="#1a1a1a" stroke-width="0.22" >SLLR/V</text>
<text transform="translate(153.25 338.6) rotate(-45) scale(0.87 1)" font-size="9.4" text-anchor="end" font-weight="normal" fill="#1a1a1a" stroke="#1a1a1a" stroke-width="0.22" >Pitts</text>
<line x1="93" y1="365.3" x2="148.95" y2="365.3" stroke="#111" stroke-width="0.9" />
<text x="120.97" y="376.5" font-size="8.6" text-anchor="middle" font-weight="normal" fill="#1a1a1a" stroke="#1a1a1a" stroke-width="0.22" >α1AT</text>
<text x="179.4" y="211.8" font-size="12" text-anchor="start" font-weight="bold" fill="#000" >E</text>
<text x="272.8" y="239.8" font-size="10.4" text-anchor="middle" font-weight="normal" fill="#1a1a1a" stroke="#1a1a1a" stroke-width="0.132" >dilute aPTT</text>
<line x1="213.2" y1="246.1" x2="213.2" y2="328" stroke="#111" stroke-width="1.3" />
<line x1="212.7" y1="327.8" x2="331.6" y2="327.8" stroke="#3a3a3a" stroke-width="1.6" />
<line x1="209.8" y1="308" x2="213.2" y2="308" stroke="#111" stroke-width="1.2" />
<text x="206.7" y="311.1" font-size="8.8" text-anchor="end" font-weight="normal" fill="#1a1a1a" stroke="#1a1a1a" stroke-width="0.06" >60</text>
<line x1="209.8" y1="288.35" x2="213.2" y2="288.35" stroke="#111" stroke-width="1.2" />
<text x="206.7" y="291.45" font-size="8.8" text-anchor="end" font-weight="normal" fill="#1a1a1a" stroke="#1a1a1a" stroke-width="0.06" >70</text>
<line x1="209.8" y1="268.7" x2="213.2" y2="268.7" stroke="#111" stroke-width="1.2" />
<text x="206.7" y="271.8" font-size="8.8" text-anchor="end" font-weight="normal" fill="#1a1a1a" stroke="#1a1a1a" stroke-width="0.06" >80</text>
<line x1="209.8" y1="249.05" x2="213.2" y2="249.05" stroke="#111" stroke-width="1.2" />
<text x="206.7" y="252.15" font-size="8.8" text-anchor="end" font-weight="normal" fill="#1a1a1a" stroke="#1a1a1a" stroke-width="0.06" >90</text>
<line x1="211.4" y1="298.18" x2="213.2" y2="298.18" stroke="#111" stroke-width="1.0" />
<line x1="211.4" y1="278.52" x2="213.2" y2="278.52" stroke="#111" stroke-width="1.0" />
<line x1="211.4" y1="258.88" x2="213.2" y2="258.88" stroke="#111" stroke-width="1.0" />
<line x1="209.8" y1="327.5" x2="213.2" y2="327.5" stroke="#111" stroke-width="1.2" />
<text x="206.7" y="330.6" font-size="8.8" text-anchor="end" font-weight="normal" fill="#1a1a1a" stroke="#1a1a1a" stroke-width="0.132" >0</text>
<rect x="211.2" y="320.2" width="4" height="3.8" fill="#fff" stroke="none" stroke-width="0"/>
<line x1="210.8" y1="321.6" x2="215.6" y2="319.6" stroke="#111" stroke-width="0.9" />
<line x1="210.8" y1="324.6" x2="215.6" y2="322.6" stroke="#111" stroke-width="0.9" />
<line x1="225.2" y1="327.5" x2="225.2" y2="331.1" stroke="#111" stroke-width="1.1" />
<line x1="244" y1="327.5" x2="244" y2="331.1" stroke="#111" stroke-width="1.1" />
<line x1="262.8" y1="327.5" x2="262.8" y2="331.1" stroke="#111" stroke-width="1.1" />
<line x1="281.6" y1="327.5" x2="281.6" y2="331.1" stroke="#111" stroke-width="1.1" />
<line x1="300.4" y1="327.5" x2="300.4" y2="331.1" stroke="#111" stroke-width="1.1" />
<line x1="319.2" y1="327.5" x2="319.2" y2="331.1" stroke="#111" stroke-width="1.1" />
<text transform="translate(192.1 286) rotate(-90) scale(0.9 1)" font-size="9.0" text-anchor="middle" font-weight="normal" fill="#1a1a1a" stroke="#1a1a1a" stroke-width="0.132" >Clotting time (sec)</text>
<text transform="translate(229.5 338.5) rotate(-45) scale(0.87 1)" font-size="9.4" text-anchor="end" font-weight="normal" fill="#1a1a1a" stroke="#1a1a1a" stroke-width="0.22" >Vehicle</text>
<text transform="translate(248.3 338.5) rotate(-45) scale(0.87 1)" font-size="9.4" text-anchor="end" font-weight="normal" fill="#1a1a1a" stroke="#1a1a1a" stroke-width="0.22" >pdC1INH</text>
<text transform="translate(267.1 338.5) rotate(-45) scale(0.87 1)" font-size="9.4" text-anchor="end" font-weight="normal" fill="#1a1a1a" stroke="#1a1a1a" stroke-width="0.22" >WT</text>
<text transform="translate(285.9 338.5) rotate(-45) scale(0.87 1)" font-size="9.4" text-anchor="end" font-weight="normal" fill="#1a1a1a" stroke="#1a1a1a" stroke-width="0.22" >SMTR/V</text>
<text transform="translate(304.7 338.5) rotate(-45) scale(0.87 1)" font-size="9.4" text-anchor="end" font-weight="normal" fill="#1a1a1a" stroke="#1a1a1a" stroke-width="0.22" >SLLR/V</text>
<text transform="translate(323.5 338.5) rotate(-45) scale(0.87 1)" font-size="9.4" text-anchor="end" font-weight="normal" fill="#1a1a1a" stroke="#1a1a1a" stroke-width="0.22" >Pitts</text>
<line x1="262.8" y1="365.8" x2="319.2" y2="365.8" stroke="#111" stroke-width="0.9" />
<text x="291" y="376.8" font-size="8.6" text-anchor="middle" font-weight="normal" fill="#1a1a1a" stroke="#1a1a1a" stroke-width="0.22" >α1AT</text>
<path d="M223.1 294.84 L225.2 296.94 L223.1 299.04 L221 296.94Z" fill="#fff" stroke="#111" stroke-width="0.7"/>
<path d="M221.3 298.94 L223.4 301.04 L221.3 303.14 L219.2 301.04Z" fill="#fff" stroke="#111" stroke-width="0.7"/>
<path d="M226.5 296.64 L228.6 298.74 L226.5 300.84 L224.4 298.74Z" fill="#fff" stroke="#111" stroke-width="0.7"/>
<path d="M229.4 296.64 L231.5 298.74 L229.4 300.84 L227.3 298.74Z" fill="#fff" stroke="#111" stroke-width="0.7"/>
<path d="M228.3 301.24 L230.4 303.34 L228.3 305.44 L226.2 303.34Z" fill="#fff" stroke="#111" stroke-width="0.7"/>
<path d="M225.4 298.94 L227.5 301.04 L225.4 303.14 L223.3 301.04Z" fill="#fff" stroke="#111" stroke-width="0.7"/>
<path d="M224.2 297.44 L226.3 299.54 L224.2 301.64 L222.1 299.54Z" fill="#fff" stroke="#111" stroke-width="0.7"/>
<line x1="219.2" y1="300.14" x2="231.2" y2="300.14" stroke="#111" stroke-width="0.9" />
<rect x="238.2" y="302.79" width="3.2" height="3.2" fill="#e7b923" stroke="#111" stroke-width="0.7"/>
<rect x="241.1" y="300.89" width="3.2" height="3.2" fill="#e7b923" stroke="#111" stroke-width="0.7"/>
<rect x="244" y="301.29" width="3.2" height="3.2" fill="#e7b923" stroke="#111" stroke-width="0.7"/>
<rect x="246.8" y="298.19" width="3.2" height="3.2" fill="#e7b923" stroke="#111" stroke-width="0.7"/>
<rect x="247.4" y="302.79" width="3.2" height="3.2" fill="#e7b923" stroke="#111" stroke-width="0.7"/>
<rect x="244.4" y="302.69" width="3.2" height="3.2" fill="#e7b923" stroke="#111" stroke-width="0.7"/>
<rect x="240.4" y="302.99" width="3.2" height="3.2" fill="#e7b923" stroke="#111" stroke-width="0.7"/>
<line x1="238" y1="303.09" x2="250" y2="303.09" stroke="#111" stroke-width="0.9" />
<circle cx="258.3" cy="299.85" r="1.75" fill="#1f5a3e" stroke="#111" stroke-width="0.75"/>
<circle cx="261.1" cy="299.25" r="1.75" fill="#1f5a3e" stroke="#111" stroke-width="0.75"/>
<circle cx="263.4" cy="300.45" r="1.75" fill="#1f5a3e" stroke="#111" stroke-width="0.75"/>
<circle cx="266.9" cy="297.55" r="1.75" fill="#1f5a3e" stroke="#111" stroke-width="0.75"/>
<circle cx="267.5" cy="301.55" r="1.75" fill="#1f5a3e" stroke="#111" stroke-width="0.75"/>
<circle cx="260" cy="300.55" r="1.75" fill="#1f5a3e" stroke="#111" stroke-width="0.75"/>
<circle cx="264.6" cy="299.35" r="1.75" fill="#1f5a3e" stroke="#111" stroke-width="0.75"/>
<line x1="256.8" y1="299.75" x2="268.8" y2="299.75" stroke="#111" stroke-width="0.9" />
<circle cx="277.8" cy="256.56" r="1.75" fill="#2d55a0" stroke="#111" stroke-width="0.75"/>
<circle cx="283.3" cy="256.56" r="1.75" fill="#2d55a0" stroke="#111" stroke-width="0.75"/>
<circle cx="277.5" cy="263.56" r="1.75" fill="#2d55a0" stroke="#111" stroke-width="0.75"/>
<circle cx="283" cy="262.96" r="1.75" fill="#2d55a0" stroke="#111" stroke-width="0.75"/>
<circle cx="286.6" cy="261.76" r="1.75" fill="#2d55a0" stroke="#111" stroke-width="0.75"/>
<circle cx="280.3" cy="262.26" r="1.75" fill="#2d55a0" stroke="#111" stroke-width="0.75"/>
<line x1="275.6" y1="259.66" x2="287.6" y2="259.66" stroke="#111" stroke-width="0.9" />
<circle cx="296.6" cy="282.13" r="1.75" fill="#62c03c" stroke="#111" stroke-width="0.75"/>
<circle cx="302.4" cy="279.53" r="1.75" fill="#62c03c" stroke="#111" stroke-width="0.75"/>
<circle cx="305" cy="284.03" r="1.75" fill="#62c03c" stroke="#111" stroke-width="0.75"/>
<circle cx="296.6" cy="287.33" r="1.75" fill="#62c03c" stroke="#111" stroke-width="0.75"/>
<circle cx="301.1" cy="284.73" r="1.75" fill="#62c03c" stroke="#111" stroke-width="0.75"/>
<circle cx="302.7" cy="286.43" r="1.75" fill="#62c03c" stroke="#111" stroke-width="0.75"/>
<line x1="294.4" y1="283.83" x2="306.4" y2="283.83" stroke="#111" stroke-width="0.9" />
<circle cx="314.7" cy="258.84" r="1.75" fill="#cc0a30" stroke="#111" stroke-width="0.75"/>
<circle cx="320.8" cy="258.14" r="1.75" fill="#cc0a30" stroke="#111" stroke-width="0.75"/>
<circle cx="314.7" cy="264.64" r="1.75" fill="#cc0a30" stroke="#111" stroke-width="0.75"/>
<circle cx="319.9" cy="264.04" r="1.75" fill="#cc0a30" stroke="#111" stroke-width="0.75"/>
<circle cx="323.8" cy="262.34" r="1.75" fill="#cc0a30" stroke="#111" stroke-width="0.75"/>
<circle cx="317.7" cy="261.84" r="1.75" fill="#cc0a30" stroke="#111" stroke-width="0.75"/>
<line x1="313.2" y1="260.84" x2="325.2" y2="260.84" stroke="#111" stroke-width="0.9" />
<text x="281.6" y="252.6" font-size="9.5" text-anchor="middle" font-weight="normal" fill="#222" >§</text>
<text x="300.4" y="274.7" font-size="9.5" text-anchor="middle" font-weight="normal" fill="#222" >§</text>
<text x="319.2" y="253.2" font-size="9.5" text-anchor="middle" font-weight="normal" fill="#222" >§</text>
<text x="350.2" y="211.8" font-size="12" text-anchor="start" font-weight="bold" fill="#000" >F</text>
<text x="444.7" y="239.9" font-size="10.4" text-anchor="middle" font-weight="normal" fill="#1a1a1a" stroke="#1a1a1a" stroke-width="0.132" >Kaolin-driven TG</text>
<line x1="383.8" y1="245.5" x2="383.8" y2="328.4" stroke="#111" stroke-width="1.3" />
<line x1="380.4" y1="327.9" x2="383.8" y2="327.9" stroke="#111" stroke-width="1.2" />
<text x="377.3" y="331" font-size="8.8" text-anchor="end" font-weight="normal" fill="#1a1a1a" stroke="#1a1a1a" stroke-width="0.06" >0</text>
<line x1="380.4" y1="301.7" x2="383.8" y2="301.7" stroke="#111" stroke-width="1.2" />
<text x="377.3" y="304.8" font-size="8.8" text-anchor="end" font-weight="normal" fill="#1a1a1a" stroke="#1a1a1a" stroke-width="0.06" >50</text>
<line x1="380.4" y1="275.5" x2="383.8" y2="275.5" stroke="#111" stroke-width="1.2" />
<text x="377.3" y="278.6" font-size="8.8" text-anchor="end" font-weight="normal" fill="#1a1a1a" stroke="#1a1a1a" stroke-width="0.06" >100</text>
<line x1="380.4" y1="249.3" x2="383.8" y2="249.3" stroke="#111" stroke-width="1.2" />
<text x="377.3" y="252.4" font-size="8.8" text-anchor="end" font-weight="normal" fill="#1a1a1a" stroke="#1a1a1a" stroke-width="0.06" >150</text>
<line x1="382" y1="314.8" x2="383.8" y2="314.8" stroke="#111" stroke-width="1.0" />
<line x1="382" y1="288.6" x2="383.8" y2="288.6" stroke="#111" stroke-width="1.0" />
<line x1="382" y1="262.4" x2="383.8" y2="262.4" stroke="#111" stroke-width="1.0" />
<text transform="translate(356.2 286.3) rotate(-90) scale(0.9 1)" font-size="9.2" text-anchor="middle" font-weight="normal" fill="#1a1a1a" stroke="#1a1a1a" stroke-width="0.1" >Thrombin (nM)</text>
<line x1="383.3" y1="327.9" x2="503.2" y2="327.9" stroke="#333" stroke-width="1.4" />
<path d="M384.0 327.9 L384.6 327.9 L385.2 327.9 L385.8 327.9 L386.4 327.9 L387.0 327.9 L387.6 327.9 L388.2 327.9 L388.7 327.9 L389.3 327.9 L389.9 327.9 L390.5 327.9 L391.1 327.9 L391.7 327.9 L392.3 327.9 L392.9 327.9 L393.5 327.9 L394.1 327.9 L394.7 327.9 L395.3 327.9 L395.9 327.9 L396.5 327.8 L397.0 327.8 L397.6 327.8 L398.2 327.7 L398.8 327.7 L399.4 327.6 L400.0 327.5 L400.6 327.3 L401.2 327.1 L401.8 326.9 L402.4 326.6 L403.0 326.2 L403.6 325.6 L404.2 325.0 L404.8 324.3 L405.4 323.4 L405.9 322.3 L406.5 321.0 L407.1 319.5 L407.7 317.8 L408.3 315.9 L408.9 313.8 L409.5 311.4 L410.1 308.9 L410.7 306.1 L411.3 303.1 L411.9 300.0 L412.5 296.8 L413.1 293.5 L413.7 290.1 L414.3 286.8 L414.8 283.5 L415.4 280.3 L416.0 277.3 L416.6 274.5 L417.2 271.9 L417.8 269.6 L418.4 267.5 L419.0 265.8 L419.6 264.4 L420.2 263.3 L420.8 262.5 L421.4 262.1 L422.0 261.9 L422.6 262.0 L423.2 262.3 L423.7 262.8 L424.3 263.5 L424.9 264.4 L425.5 265.4 L426.1 266.5 L426.7 267.7 L427.3 269.0 L427.9 270.3 L428.5 271.7 L429.1 273.1 L429.7 274.6 L430.3 276.0 L430.9 277.6 L431.5 279.1 L432.1 280.6 L432.6 282.1 L433.2 283.6 L433.8 285.2 L434.4 286.7 L435.0 288.2 L435.6 289.6 L436.2 291.1 L436.8 292.5 L437.4 293.9 L438.0 295.3 L438.6 296.7 L439.2 298.0 L439.8 299.3 L440.4 300.5 L440.9 301.8 L441.5 302.9 L442.1 304.1 L442.7 305.2 L443.3 306.3 L443.9 307.3 L444.5 308.4 L445.1 309.3 L445.7 310.3 L446.3 311.2 L446.9 312.0 L447.5 312.9 L448.1 313.7 L448.7 314.4 L449.3 315.2 L449.8 315.9 L450.4 316.6 L451.0 317.2 L451.6 317.8 L452.2 318.4 L452.8 318.9 L453.4 319.5 L454.0 320.0 L454.6 320.5 L455.2 320.9 L455.8 321.3 L456.4 321.7 L457.0 322.1 L457.6 322.5 L458.2 322.8 L458.7 323.2 L459.3 323.5 L459.9 323.8 L460.5 324.0 L461.1 324.3 L461.7 324.5 L462.3 324.8 L462.9 325.0 L463.5 325.2 L464.1 325.4 L464.7 325.5 L465.3 325.7 L465.9 325.9 L466.5 326.0 L467.1 326.1 L467.6 326.3 L468.2 326.4 L468.8 326.5 L469.4 326.6 L470.0 326.7 L470.6 326.8 L471.2 326.9 L471.8 326.9 L472.4 327.0 L473.0 327.1 L473.6 327.2 L474.2 327.2 L474.8 327.3 L475.4 327.3 L476.0 327.4 L476.5 327.4 L477.1 327.4 L477.7 327.5 L478.3 327.5 L478.9 327.5 L479.5 327.6 L480.1 327.6 L480.7 327.6 L481.3 327.6 L481.9 327.7 L482.5 327.7 L483.1 327.7 L483.7 327.7 L484.3 327.7 L484.9 327.8 L485.4 327.8 L486.0 327.8 L486.6 327.8 L487.2 327.8 L487.8 327.8 L488.4 327.8 L489.0 327.8 L489.6 327.8 L490.2 327.8 L490.8 327.8 L491.4 327.8 L492.0 327.9 L492.6 327.9 L493.2 327.9 L493.7 327.9 L494.3 327.9 L494.9 327.9 L495.5 327.9 L496.1 327.9 L496.7 327.9 L497.3 327.9 L497.9 327.9 L498.5 327.9 L499.1 327.9 L499.7 327.9 L500.3 327.9 L500.9 327.9 L501.5 327.9 L502.1 327.9" fill="none" stroke="#cbcbcb" stroke-width="1.15"/>
<path d="M384.0 327.9 L384.6 327.9 L385.2 327.9 L385.8 327.9 L386.4 327.9 L387.0 327.9 L387.6 327.9 L388.2 327.9 L388.7 327.9 L389.3 327.9 L389.9 327.9 L390.5 327.9 L391.1 327.9 L391.7 327.9 L392.3 327.9 L392.9 327.9 L393.5 327.9 L394.1 327.9 L394.7 327.9 L395.3 327.9 L395.9 327.9 L396.5 327.9 L397.0 327.9 L397.6 327.9 L398.2 327.9 L398.8 327.9 L399.4 327.9 L400.0 327.9 L400.6 327.9 L401.2 327.9 L401.8 327.9 L402.4 327.8 L403.0 327.8 L403.6 327.8 L404.2 327.8 L404.8 327.8 L405.4 327.7 L405.9 327.7 L406.5 327.6 L407.1 327.6 L407.7 327.5 L408.3 327.4 L408.9 327.3 L409.5 327.2 L410.1 327.0 L410.7 326.8 L411.3 326.6 L411.9 326.4 L412.5 326.1 L413.1 325.8 L413.7 325.5 L414.3 325.1 L414.8 324.7 L415.4 324.2 L416.0 323.7 L416.6 323.1 L417.2 322.4 L417.8 321.7 L418.4 320.9 L419.0 320.1 L419.6 319.1 L420.2 318.2 L420.8 317.1 L421.4 316.0 L422.0 314.8 L422.6 313.6 L423.2 312.3 L423.7 311.0 L424.3 309.6 L424.9 308.2 L425.5 306.7 L426.1 305.3 L426.7 303.8 L427.3 302.3 L427.9 300.7 L428.5 299.3 L429.1 297.8 L429.7 296.3 L430.3 294.9 L430.9 293.6 L431.5 292.3 L432.1 291.0 L432.6 289.9 L433.2 288.8 L433.8 287.8 L434.4 286.8 L435.0 286.0 L435.6 285.2 L436.2 284.6 L436.8 284.0 L437.4 283.6 L438.0 283.2 L438.6 282.9 L439.2 282.7 L439.8 282.6 L440.4 282.6 L440.9 282.6 L441.5 282.8 L442.1 283.0 L442.7 283.3 L443.3 283.6 L443.9 284.0 L444.5 284.5 L445.1 285.0 L445.7 285.6 L446.3 286.1 L446.9 286.7 L447.5 287.4 L448.1 288.0 L448.7 288.7 L449.3 289.3 L449.8 290.0 L450.4 290.8 L451.0 291.5 L451.6 292.2 L452.2 292.9 L452.8 293.7 L453.4 294.4 L454.0 295.2 L454.6 295.9 L455.2 296.7 L455.8 297.4 L456.4 298.2 L457.0 298.9 L457.6 299.6 L458.2 300.4 L458.7 301.1 L459.3 301.8 L459.9 302.5 L460.5 303.2 L461.1 303.9 L461.7 304.6 L462.3 305.3 L462.9 306.0 L463.5 306.6 L464.1 307.3 L464.7 307.9 L465.3 308.5 L465.9 309.1 L466.5 309.7 L467.1 310.3 L467.6 310.9 L468.2 311.5 L468.8 312.0 L469.4 312.6 L470.0 313.1 L470.6 313.6 L471.2 314.1 L471.8 314.6 L472.4 315.1 L473.0 315.5 L473.6 316.0 L474.2 316.4 L474.8 316.8 L475.4 317.3 L476.0 317.7 L476.5 318.1 L477.1 318.4 L477.7 318.8 L478.3 319.2 L478.9 319.5 L479.5 319.8 L480.1 320.2 L480.7 320.5 L481.3 320.8 L481.9 321.1 L482.5 321.4 L483.1 321.6 L483.7 321.9 L484.3 322.1 L484.9 322.4 L485.4 322.6 L486.0 322.9 L486.6 323.1 L487.2 323.3 L487.8 323.5 L488.4 323.7 L489.0 323.9 L489.6 324.1 L490.2 324.2 L490.8 324.4 L491.4 324.6 L492.0 324.7 L492.6 324.9 L493.2 325.0 L493.7 325.1 L494.3 325.3 L494.9 325.4 L495.5 325.5 L496.1 325.6 L496.7 325.7 L497.3 325.8 L497.9 326.0 L498.5 326.0 L499.1 326.1 L499.7 326.2 L500.3 326.3 L500.9 326.4 L501.5 326.5 L502.1 326.5" fill="none" stroke="#2c4f9c" stroke-width="1.15"/>
<path d="M384.0 327.9 L384.6 327.9 L385.2 327.9 L385.8 327.9 L386.4 327.9 L387.0 327.9 L387.6 327.9 L388.2 327.9 L388.7 327.9 L389.3 327.9 L389.9 327.9 L390.5 327.9 L391.1 327.9 L391.7 327.9 L392.3 327.9 L392.9 327.9 L393.5 327.9 L394.1 327.9 L394.7 327.9 L395.3 327.9 L395.9 327.9 L396.5 327.9 L397.0 327.9 L397.6 327.9 L398.2 327.9 L398.8 327.9 L399.4 327.9 L400.0 327.9 L400.6 327.9 L401.2 327.9 L401.8 327.9 L402.4 327.9 L403.0 327.9 L403.6 327.9 L404.2 327.9 L404.8 327.9 L405.4 327.9 L405.9 327.9 L406.5 327.9 L407.1 327.8 L407.7 327.8 L408.3 327.8 L408.9 327.7 L409.5 327.7 L410.1 327.6 L410.7 327.5 L411.3 327.3 L411.9 327.2 L412.5 327.0 L413.1 326.7 L413.7 326.4 L414.3 326.0 L414.8 325.6 L415.4 325.1 L416.0 324.5 L416.6 323.8 L417.2 323.0 L417.8 322.1 L418.4 321.2 L419.0 320.1 L419.6 318.9 L420.2 317.7 L420.8 316.4 L421.4 315.0 L422.0 313.5 L422.6 312.0 L423.2 310.4 L423.7 308.8 L424.3 307.3 L424.9 305.7 L425.5 304.1 L426.1 302.6 L426.7 301.2 L427.3 299.8 L427.9 298.4 L428.5 297.2 L429.1 296.1 L429.7 295.0 L430.3 294.1 L430.9 293.2 L431.5 292.5 L432.1 291.9 L432.6 291.3 L433.2 290.9 L433.8 290.5 L434.4 290.2 L435.0 290.0 L435.6 289.8 L436.2 289.7 L436.8 289.7 L437.4 289.6 L438.0 289.7 L438.6 289.8 L439.2 289.9 L439.8 290.1 L440.4 290.3 L440.9 290.5 L441.5 290.8 L442.1 291.2 L442.7 291.5 L443.3 291.9 L443.9 292.4 L444.5 292.8 L445.1 293.3 L445.7 293.8 L446.3 294.3 L446.9 294.8 L447.5 295.4 L448.1 295.9 L448.7 296.5 L449.3 297.1 L449.8 297.7 L450.4 298.3 L451.0 298.9 L451.6 299.5 L452.2 300.1 L452.8 300.8 L453.4 301.4 L454.0 302.0 L454.6 302.6 L455.2 303.3 L455.8 303.9 L456.4 304.5 L457.0 305.1 L457.6 305.8 L458.2 306.4 L458.7 307.0 L459.3 307.6 L459.9 308.2 L460.5 308.8 L461.1 309.4 L461.7 309.9 L462.3 310.5 L462.9 311.1 L463.5 311.6 L464.1 312.2 L464.7 312.7 L465.3 313.2 L465.9 313.7 L466.5 314.2 L467.1 314.7 L467.6 315.2 L468.2 315.6 L468.8 316.1 L469.4 316.5 L470.0 317.0 L470.6 317.4 L471.2 317.8 L471.8 318.2 L472.4 318.6 L473.0 318.9 L473.6 319.3 L474.2 319.7 L474.8 320.0 L475.4 320.3 L476.0 320.7 L476.5 321.0 L477.1 321.3 L477.7 321.6 L478.3 321.8 L478.9 322.1 L479.5 322.4 L480.1 322.6 L480.7 322.9 L481.3 323.1 L481.9 323.3 L482.5 323.5 L483.1 323.8 L483.7 324.0 L484.3 324.1 L484.9 324.3 L485.4 324.5 L486.0 324.7 L486.6 324.8 L487.2 325.0 L487.8 325.1 L488.4 325.3 L489.0 325.4 L489.6 325.5 L490.2 325.7 L490.8 325.8 L491.4 325.9 L492.0 326.0 L492.6 326.1 L493.2 326.2 L493.7 326.3 L494.3 326.4 L494.9 326.5 L495.5 326.6 L496.1 326.6 L496.7 326.7 L497.3 326.8 L497.9 326.8 L498.5 326.9 L499.1 327.0 L499.7 327.0 L500.3 327.1 L500.9 327.1 L501.5 327.2 L502.1 327.2" fill="none" stroke="#b3103e" stroke-width="1.15"/>
<path d="M384.0 327.9 L384.6 327.9 L385.2 327.9 L385.8 327.9 L386.4 327.9 L387.0 327.9 L387.6 327.9 L388.2 327.9 L388.7 327.9 L389.3 327.9 L389.9 327.9 L390.5 327.9 L391.1 327.9 L391.7 327.9 L392.3 327.9 L392.9 327.9 L393.5 327.9 L394.1 327.9 L394.7 327.9 L395.3 327.9 L395.9 327.9 L396.5 327.9 L397.0 327.9 L397.6 327.9 L398.2 327.9 L398.8 327.9 L399.4 327.9 L400.0 327.8 L400.6 327.8 L401.2 327.8 L401.8 327.8 L402.4 327.7 L403.0 327.7 L403.6 327.6 L404.2 327.5 L404.8 327.4 L405.4 327.3 L405.9 327.1 L406.5 326.9 L407.1 326.7 L407.7 326.4 L408.3 326.0 L408.9 325.6 L409.5 325.1 L410.1 324.5 L410.7 323.9 L411.3 323.1 L411.9 322.3 L412.5 321.3 L413.1 320.3 L413.7 319.1 L414.3 317.8 L414.8 316.4 L415.4 314.8 L416.0 313.2 L416.6 311.4 L417.2 309.6 L417.8 307.6 L418.4 305.6 L419.0 303.5 L419.6 301.4 L420.2 299.3 L420.8 297.1 L421.4 294.9 L422.0 292.8 L422.6 290.8 L423.2 288.8 L423.7 286.8 L424.3 285.0 L424.9 283.3 L425.5 281.8 L426.1 280.3 L426.7 279.1 L427.3 277.9 L427.9 277.0 L428.5 276.1 L429.1 275.5 L429.7 275.0 L430.3 274.6 L430.9 274.3 L431.5 274.2 L432.1 274.2 L432.6 274.3 L433.2 274.5 L433.8 274.8 L434.4 275.2 L435.0 275.6 L435.6 276.2 L436.2 276.8 L436.8 277.4 L437.4 278.1 L438.0 278.8 L438.6 279.6 L439.2 280.4 L439.8 281.2 L440.4 282.1 L440.9 283.0 L441.5 283.9 L442.1 284.8 L442.7 285.8 L443.3 286.7 L443.9 287.7 L444.5 288.6 L445.1 289.6 L445.7 290.6 L446.3 291.6 L446.9 292.6 L447.5 293.5 L448.1 294.5 L448.7 295.5 L449.3 296.4 L449.8 297.4 L450.4 298.3 L451.0 299.3 L451.6 300.2 L452.2 301.1 L452.8 302.0 L453.4 302.9 L454.0 303.8 L454.6 304.6 L455.2 305.4 L455.8 306.3 L456.4 307.1 L457.0 307.8 L457.6 308.6 L458.2 309.3 L458.7 310.1 L459.3 310.8 L459.9 311.5 L460.5 312.1 L461.1 312.8 L461.7 313.4 L462.3 314.0 L462.9 314.6 L463.5 315.2 L464.1 315.8 L464.7 316.3 L465.3 316.8 L465.9 317.3 L466.5 317.8 L467.1 318.3 L467.6 318.7 L468.2 319.2 L468.8 319.6 L469.4 320.0 L470.0 320.4 L470.6 320.7 L471.2 321.1 L471.8 321.4 L472.4 321.8 L473.0 322.1 L473.6 322.4 L474.2 322.7 L474.8 322.9 L475.4 323.2 L476.0 323.5 L476.5 323.7 L477.1 323.9 L477.7 324.1 L478.3 324.4 L478.9 324.6 L479.5 324.7 L480.1 324.9 L480.7 325.1 L481.3 325.2 L481.9 325.4 L482.5 325.5 L483.1 325.7 L483.7 325.8 L484.3 325.9 L484.9 326.1 L485.4 326.2 L486.0 326.3 L486.6 326.4 L487.2 326.5 L487.8 326.6 L488.4 326.6 L489.0 326.7 L489.6 326.8 L490.2 326.9 L490.8 326.9 L491.4 327.0 L492.0 327.1 L492.6 327.1 L493.2 327.2 L493.7 327.2 L494.3 327.3 L494.9 327.3 L495.5 327.3 L496.1 327.4 L496.7 327.4 L497.3 327.4 L497.9 327.5 L498.5 327.5 L499.1 327.5 L499.7 327.6 L500.3 327.6 L500.9 327.6 L501.5 327.6 L502.1 327.6" fill="none" stroke="#6cbf4c" stroke-width="1.15"/>
<path d="M384.0 327.9 L384.6 327.9 L385.2 327.9 L385.8 327.9 L386.4 327.9 L387.0 327.9 L387.6 327.9 L388.2 327.9 L388.7 327.9 L389.3 327.9 L389.9 327.9 L390.5 327.9 L391.1 327.9 L391.7 327.9 L392.3 327.9 L392.9 327.9 L393.5 327.9 L394.1 327.9 L394.7 327.9 L395.3 327.9 L395.9 327.9 L396.5 327.9 L397.0 327.9 L397.6 327.9 L398.2 327.9 L398.8 327.9 L399.4 327.8 L400.0 327.8 L400.6 327.7 L401.2 327.7 L401.8 327.6 L402.4 327.5 L403.0 327.3 L403.6 327.1 L404.2 326.8 L404.8 326.4 L405.4 325.9 L405.9 325.4 L406.5 324.6 L407.1 323.7 L407.7 322.7 L408.3 321.4 L408.9 319.9 L409.5 318.2 L410.1 316.2 L410.7 313.9 L411.3 311.5 L411.9 308.7 L412.5 305.8 L413.1 302.7 L413.7 299.4 L414.3 296.0 L414.8 292.5 L415.4 289.0 L416.0 285.6 L416.6 282.3 L417.2 279.2 L417.8 276.3 L418.4 273.7 L419.0 271.4 L419.6 269.4 L420.2 267.8 L420.8 266.6 L421.4 265.8 L422.0 265.3 L422.6 265.0 L423.2 265.1 L423.7 265.4 L424.3 265.8 L424.9 266.4 L425.5 267.2 L426.1 268.0 L426.7 269.0 L427.3 270.0 L427.9 271.1 L428.5 272.2 L429.1 273.4 L429.7 274.7 L430.3 275.9 L430.9 277.2 L431.5 278.6 L432.1 279.9 L432.6 281.3 L433.2 282.6 L433.8 284.0 L434.4 285.4 L435.0 286.7 L435.6 288.1 L436.2 289.4 L436.8 290.8 L437.4 292.1 L438.0 293.4 L438.6 294.7 L439.2 296.0 L439.8 297.2 L440.4 298.5 L440.9 299.7 L441.5 300.9 L442.1 302.0 L442.7 303.1 L443.3 304.2 L443.9 305.3 L444.5 306.3 L445.1 307.3 L445.7 308.3 L446.3 309.2 L446.9 310.1 L447.5 311.0 L448.1 311.8 L448.7 312.6 L449.3 313.4 L449.8 314.2 L450.4 314.9 L451.0 315.6 L451.6 316.3 L452.2 316.9 L452.8 317.5 L453.4 318.1 L454.0 318.6 L454.6 319.2 L455.2 319.7 L455.8 320.2 L456.4 320.6 L457.0 321.0 L457.6 321.5 L458.2 321.9 L458.7 322.2 L459.3 322.6 L459.9 322.9 L460.5 323.2 L461.1 323.5 L461.7 323.8 L462.3 324.1 L462.9 324.3 L463.5 324.6 L464.1 324.8 L464.7 325.0 L465.3 325.2 L465.9 325.4 L466.5 325.6 L467.1 325.7 L467.6 325.9 L468.2 326.0 L468.8 326.1 L469.4 326.3 L470.0 326.4 L470.6 326.5 L471.2 326.6 L471.8 326.7 L472.4 326.8 L473.0 326.9 L473.6 327.0 L474.2 327.0 L474.8 327.1 L475.4 327.2 L476.0 327.2 L476.5 327.3 L477.1 327.3 L477.7 327.4 L478.3 327.4 L478.9 327.4 L479.5 327.5 L480.1 327.5 L480.7 327.5 L481.3 327.6 L481.9 327.6 L482.5 327.6 L483.1 327.6 L483.7 327.7 L484.3 327.7 L484.9 327.7 L485.4 327.7 L486.0 327.7 L486.6 327.8 L487.2 327.8 L487.8 327.8 L488.4 327.8 L489.0 327.8 L489.6 327.8 L490.2 327.8 L490.8 327.8 L491.4 327.8 L492.0 327.8 L492.6 327.8 L493.2 327.8 L493.7 327.9 L494.3 327.9 L494.9 327.9 L495.5 327.9 L496.1 327.9 L496.7 327.9 L497.3 327.9 L497.9 327.9 L498.5 327.9 L499.1 327.9 L499.7 327.9 L500.3 327.9 L500.9 327.9 L501.5 327.9 L502.1 327.9" fill="none" stroke="#eebb18" stroke-width="1.15"/>
<path d="M384.0 327.9 L384.6 327.9 L385.2 327.9 L385.8 327.9 L386.4 327.9 L387.0 327.9 L387.6 327.9 L388.2 327.9 L388.7 327.9 L389.3 327.9 L389.9 327.9 L390.5 327.9 L391.1 327.9 L391.7 327.9 L392.3 327.9 L392.9 327.9 L393.5 327.9 L394.1 327.9 L394.7 327.9 L395.3 327.9 L395.9 327.9 L396.5 327.9 L397.0 327.9 L397.6 327.9 L398.2 327.9 L398.8 327.8 L399.4 327.8 L400.0 327.8 L400.6 327.7 L401.2 327.7 L401.8 327.6 L402.4 327.4 L403.0 327.3 L403.6 327.1 L404.2 326.9 L404.8 326.5 L405.4 326.2 L405.9 325.7 L406.5 325.1 L407.1 324.4 L407.7 323.6 L408.3 322.6 L408.9 321.5 L409.5 320.2 L410.1 318.7 L410.7 317.0 L411.3 315.1 L411.9 313.0 L412.5 310.7 L413.1 308.2 L413.7 305.5 L414.3 302.6 L414.8 299.6 L415.4 296.5 L416.0 293.4 L416.6 290.1 L417.2 286.9 L417.8 283.7 L418.4 280.6 L419.0 277.7 L419.6 274.9 L420.2 272.3 L420.8 270.0 L421.4 267.9 L422.0 266.1 L422.6 264.6 L423.2 263.4 L423.7 262.5 L424.3 262.0 L424.9 261.7 L425.5 261.6 L426.1 261.9 L426.7 262.3 L427.3 262.9 L427.9 263.7 L428.5 264.6 L429.1 265.6 L429.7 266.7 L430.3 267.9 L430.9 269.1 L431.5 270.4 L432.1 271.7 L432.6 273.1 L433.2 274.5 L433.8 275.9 L434.4 277.3 L435.0 278.8 L435.6 280.2 L436.2 281.6 L436.8 283.1 L437.4 284.5 L438.0 285.9 L438.6 287.3 L439.2 288.7 L439.8 290.1 L440.4 291.4 L440.9 292.8 L441.5 294.1 L442.1 295.4 L442.7 296.6 L443.3 297.9 L443.9 299.1 L444.5 300.3 L445.1 301.4 L445.7 302.5 L446.3 303.6 L446.9 304.7 L447.5 305.7 L448.1 306.7 L448.7 307.6 L449.3 308.6 L449.8 309.4 L450.4 310.3 L451.0 311.2 L451.6 312.0 L452.2 312.7 L452.8 313.5 L453.4 314.2 L454.0 314.9 L454.6 315.5 L455.2 316.2 L455.8 316.8 L456.4 317.4 L457.0 317.9 L457.6 318.5 L458.2 319.0 L458.7 319.5 L459.3 319.9 L459.9 320.4 L460.5 320.8 L461.1 321.2 L461.7 321.6 L462.3 321.9 L462.9 322.3 L463.5 322.6 L464.1 322.9 L464.7 323.2 L465.3 323.5 L465.9 323.8 L466.5 324.0 L467.1 324.2 L467.6 324.5 L468.2 324.7 L468.8 324.9 L469.4 325.1 L470.0 325.3 L470.6 325.4 L471.2 325.6 L471.8 325.7 L472.4 325.9 L473.0 326.0 L473.6 326.1 L474.2 326.2 L474.8 326.4 L475.4 326.5 L476.0 326.6 L476.5 326.6 L477.1 326.7 L477.7 326.8 L478.3 326.9 L478.9 327.0 L479.5 327.0 L480.1 327.1 L480.7 327.1 L481.3 327.2 L481.9 327.2 L482.5 327.3 L483.1 327.3 L483.7 327.4 L484.3 327.4 L484.9 327.5 L485.4 327.5 L486.0 327.5 L486.6 327.5 L487.2 327.6 L487.8 327.6 L488.4 327.6 L489.0 327.6 L489.6 327.7 L490.2 327.7 L490.8 327.7 L491.4 327.7 L492.0 327.7 L492.6 327.7 L493.2 327.8 L493.7 327.8 L494.3 327.8 L494.9 327.8 L495.5 327.8 L496.1 327.8 L496.7 327.8 L497.3 327.8 L497.9 327.8 L498.5 327.8 L499.1 327.8 L499.7 327.8 L500.3 327.8 L500.9 327.9 L501.5 327.9 L502.1 327.9" fill="none" stroke="#2e6e50" stroke-width="1.15"/>
<line x1="380.6" y1="327.9" x2="402.5" y2="327.9" stroke="#c8c8c8" stroke-width="1.3" />
<line x1="383.8" y1="327.9" x2="383.8" y2="330.9" stroke="#111" stroke-width="0.9" />
<text x="383.8" y="342" font-size="8.8" text-anchor="middle" font-weight="normal" fill="#1a1a1a" stroke="#1a1a1a" stroke-width="0.132" >0</text>
<line x1="423.35" y1="327.9" x2="423.35" y2="330.9" stroke="#111" stroke-width="0.9" />
<text x="423.35" y="342" font-size="8.8" text-anchor="middle" font-weight="normal" fill="#1a1a1a" stroke="#1a1a1a" stroke-width="0.132" >10</text>
<line x1="462.9" y1="327.9" x2="462.9" y2="330.9" stroke="#111" stroke-width="0.9" />
<text x="462.9" y="342" font-size="8.8" text-anchor="middle" font-weight="normal" fill="#1a1a1a" stroke="#1a1a1a" stroke-width="0.132" >20</text>
<line x1="502.45" y1="327.9" x2="502.45" y2="330.9" stroke="#111" stroke-width="0.9" />
<text x="502.45" y="342" font-size="8.8" text-anchor="middle" font-weight="normal" fill="#1a1a1a" stroke="#1a1a1a" stroke-width="0.132" >30</text>
<line x1="403.57" y1="327.9" x2="403.57" y2="329.9" stroke="#111" stroke-width="0.9" />
<line x1="443.12" y1="327.9" x2="443.12" y2="329.9" stroke="#111" stroke-width="0.9" />
<line x1="482.68" y1="327.9" x2="482.68" y2="329.9" stroke="#111" stroke-width="0.9" />
<text x="444.8" y="356.4" font-size="10.4" text-anchor="middle" font-weight="normal" fill="#1a1a1a" stroke="#1a1a1a" stroke-width="0.1" textLength="38.8" lengthAdjust="spacingAndGlyphs">Time (min)</text>
<line x1="465.4" y1="251.8" x2="475.4" y2="251.8" stroke="#cbcbcb" stroke-width="1.35" />
<text transform="translate(478.6 254.6) scale(0.91 1)" font-size="8.8" text-anchor="start" font-weight="normal" fill="#1a1a1a" >Vehicle</text>
<line x1="465.4" y1="262.05" x2="475.4" y2="262.05" stroke="#eebb18" stroke-width="1.35" />
<text transform="translate(478.6 264.85) scale(0.91 1)" font-size="8.8" text-anchor="start" font-weight="normal" fill="#1a1a1a" >pdC1INH</text>
<line x1="465.4" y1="272.3" x2="475.4" y2="272.3" stroke="#2e6e50" stroke-width="1.35" />
<text transform="translate(478.6 275.1) scale(0.91 1)" font-size="8.8" text-anchor="start" font-weight="normal" fill="#1a1a1a" >WT</text>
<line x1="465.4" y1="282.55" x2="475.4" y2="282.55" stroke="#2c4f9c" stroke-width="1.35" />
<text transform="translate(478.6 285.35) scale(0.91 1)" font-size="8.8" text-anchor="start" font-weight="normal" fill="#1a1a1a" >SMTR/V</text>
<line x1="465.4" y1="292.8" x2="475.4" y2="292.8" stroke="#6cbf4c" stroke-width="1.35" />
<text transform="translate(478.6 295.6) scale(0.91 1)" font-size="8.8" text-anchor="start" font-weight="normal" fill="#1a1a1a" >SLLR/V</text>
<line x1="465.4" y1="303.05" x2="475.4" y2="303.05" stroke="#b3103e" stroke-width="1.35" />
<text transform="translate(478.6 305.85) scale(0.91 1)" font-size="8.8" text-anchor="start" font-weight="normal" fill="#1a1a1a" >Pitts</text></svg>
</body></html>
